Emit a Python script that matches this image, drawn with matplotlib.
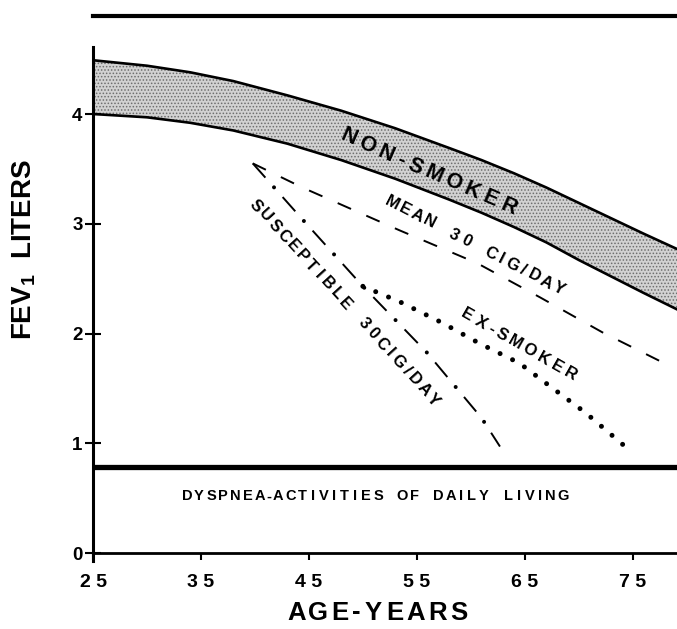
import numpy as np
import matplotlib.pyplot as plt
from matplotlib.transforms import IdentityTransform

plt.rcParams['font.family'] = ['Liberation Sans', 'DejaVu Sans']
plt.rcParams['lines.scale_dashes'] = False
plt.rcParams['mathtext.fontset'] = 'custom'
plt.rcParams['mathtext.rm'] = 'Liberation Sans:bold'
plt.rcParams['mathtext.bf'] = 'Liberation Sans:bold'
plt.rcParams['hatch.linewidth'] = 0.7
plt.rcParams['hatch.color'] = '#6e6e6e'

# non-smoker band (age, FEV1 in litres)
band_age = [25, 30, 34, 38, 43, 48, 53, 58, 61, 64, 67, 70, 73, 76, 79.1]
band_upper = [4.49, 4.44, 4.38, 4.30, 4.17, 4.03, 3.87, 3.69, 3.58, 3.46, 3.33, 3.19, 3.05, 2.91, 2.77]
band_lower = [4.00, 3.97, 3.92, 3.85, 3.73, 3.58, 3.41, 3.22, 3.10, 2.97, 2.83, 2.67, 2.52, 2.37, 2.22]

# mean smoker 30 cig/day
mean_age = [39.8, 44.4, 53.4, 60.6, 66.4, 72.2, 77.7]
mean_fev = [3.55, 3.33, 2.94, 2.64, 2.33, 2.01, 1.74]

# susceptible smoker 30 cig/day
susc_age = [39.8, 44.4, 50.0, 55.9, 61.0, 62.7]
susc_fev = [3.55, 3.04, 2.43, 1.83, 1.23, 0.97]

# ex-smoker
ex_age = [50.0, 53.4, 57.3, 60.8, 64.5, 67.6, 70.6, 74.3]
ex_fev = [2.43, 2.29, 2.10, 1.91, 1.73, 1.50, 1.28, 0.97]

dyspnea_level = 0.78

age_ticks = [25, 35, 45, 55, 65, 75]
age_labels = ['2 5', '3 5', '4 5', '5 5', '6 5', '7 5']
fev_ticks = [0, 1, 2, 3, 4]
fev_labels = ['0', '1', '2', '3', '4']

# narrow glyphs take less room in the hand-lettered labels
NARROW = {'-': 0.55, '/': 0.8, 'I': 0.75}


def letters(target, s, cx, cy, step, angle, **kw):
    """Write s one character at a time, evenly spaced (pixel coords)"""
    a = np.deg2rad(angle)
    w = np.array([NARROW.get(ch, 1.0) for ch in s]) * step
    pos = np.cumsum(w) - w / 2
    pos -= pos[-1] / 2 + pos[0] / 2
    for d, ch in zip(pos, s):
        target.text(cx + d * np.cos(a), cy + d * np.sin(a), ch,
                    transform=IdentityTransform(), rotation=angle,
                    rotation_mode='anchor', ha='center',
                    va='center_baseline', **kw)


fig = plt.figure(figsize=(6.77, 6.29), dpi=100)
ax = fig.add_axes([93 / 677, 76 / 629, 1 - 93 / 677, 537 / 629])
ax.set_xlim(25, 79.1)
ax.set_ylim(0, 4.893)

ax.fill_between(band_age, band_lower, band_upper, facecolor='#d2d2d2',
                hatch='.....', edgecolor='#6e6e6e', linewidth=0)
ax.plot(band_age, band_upper, color='k', lw=1.9)
ax.plot(band_age, band_lower, color='k', lw=1.9)

ax.plot(mean_age, mean_fev, color='k', lw=1.4, linestyle=(0, (10.5, 12)))

ax.plot(susc_age, susc_fev, color='k', lw=1.4, linestyle=(0, (13.7, 18.7)))
ax.plot(susc_age, susc_fev, color='k', lw=2.9, linestyle=(9.35, (0.01, 32.39)),
        dash_capstyle='round')

ax.plot(ex_age, ex_fev, color='k', lw=3.6, linestyle=(0, (0.01, 10)),
        dash_capstyle='round')

ax.axhline(dyspnea_level, color='k', lw=3.8)

ax.spines['right'].set_visible(False)
ax.spines['left'].set_linewidth(2.2)
ax.spines['left'].set_bounds(-0.07, 4.61)
ax.spines['bottom'].set_linewidth(2.0)
ax.spines['top'].set_linewidth(3.0)

ax.set_xticks(age_ticks, age_labels, fontsize=14, fontweight='bold')
ax.set_yticks(fev_ticks, fev_labels, fontsize=13.5, fontweight='bold')
ax.tick_params(axis='x', direction='out', length=5, width=1.5, pad=10)
ax.tick_params(axis='y', direction='inout', length=11, width=1.5, pad=2)

fig.canvas.draw()
to_px = ax.transData.transform

x, y = to_px((56.2, 3.49))
letters(ax, 'NON-SMOKER', x, y, 20.5, -23.5, fontsize=15.5, fontweight='bold')
x, y = to_px((60.5, 2.81))
letters(ax, 'MEAN 30 CIG/DAY', x, y, 13.8, -27.2, fontsize=12, fontweight='bold')
x, y = to_px((48.4, 2.29))
letters(ax, 'SUSCEPTIBLE 30CIG/DAY', x, y, 13.6, -47.6, fontsize=12, fontweight='bold')
x, y = to_px((64.5, 1.91))
letters(ax, 'EX-SMOKER', x, y, 15.8, -29.7, fontsize=12, fontweight='bold')
x, y = to_px((51.1, 0.53))
letters(ax, 'DYSPNEA-ACTIVITIES OF DAILY LIVING', x, y, 12.1, 0,
        fontsize=10.5, fontweight='bold')

letters(fig, 'AGE-YEARS', 378, 19, 21.5, 0, fontsize=18.5, fontweight='bold')
fig.text(24 / 677, 379 / 629, r'FEV$_{\mathbf{1}}$  LITERS', rotation=90,
         fontsize=20, fontweight='bold', ha='center', va='center')

plt.savefig('out.png', dpi=100)
plt.close()
